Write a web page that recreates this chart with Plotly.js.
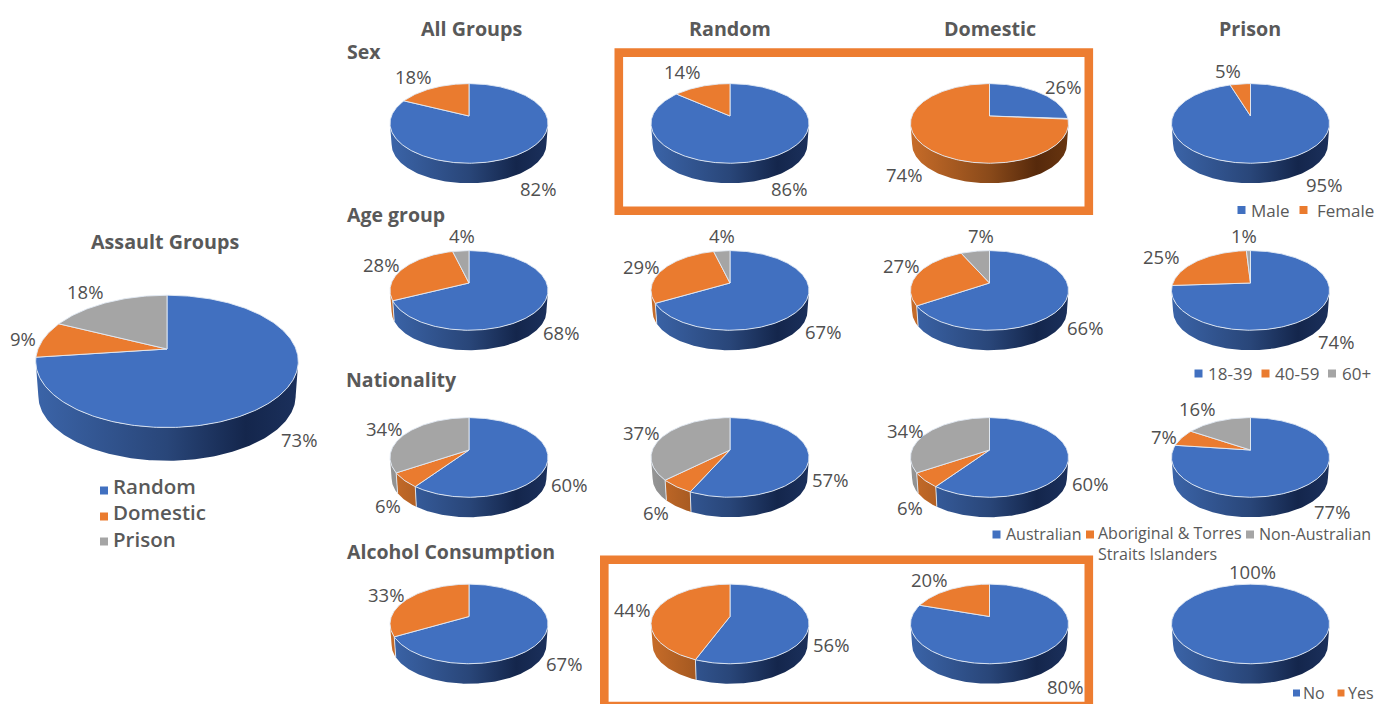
<!DOCTYPE html>
<html>
<head>
<meta charset="utf-8">
<title>Assault groups</title>
<script src="https://cdn.plot.ly/plotly-3.0.1.min.js"></script>
<style>html,body{margin:0;padding:0;background:#fff;overflow:hidden}#chart{width:1375px;height:704px}</style>
</head>
<body>
<div id="chart"></div>
<script>
// Shares (%), listed clockwise from twelve o'clock.
const assaultGroups = [73, 9, 18];
const sexShares = [[82, 18], [86, 14], [26, 74], [95, 5]];
const ageShares = [[68, 28, 4], [67, 29, 4], [66, 27, 7], [74, 25, 1]];
const nationalityShares = [[60, 6, 34], [57, 6, 37], [60, 6, 34], [77, 7, 16]];
const alcoholShares = [[67, 33], [56, 44], [80, 20], [100, 0]];

const columnTitles = ['All Groups', 'Random', 'Domestic', 'Prison'];
const rowTitles = ['Sex', 'Age group', 'Nationality', 'Alcohol Consumption'];
const assaultLegend = ['Random', 'Domestic', 'Prison'];
const sexLegend = ['Male', 'Female'];
const ageLegend = ['18-39', '40-59', '60+'];
const nationalityLegend = ['Australian', 'Aboriginal & Torres<br>Straits Islanders', 'Non-Australian'];
const alcoholLegend = ['No', 'Yes'];

// Page layout in pixel units: the single axis pair spans the whole page.
const columnX = [469, 730, 989.5, 1250.5];
const rowY = [116, 283, 450, 616.5];
const rowTitleY = [51, 214, 379, 551];
const rowTitleX = [347, 347, 345.5, 347];
const smallRadius = 79;
const bigPie = {cx: 167, cy: 349, rx: 131.3};

const bigLabelSpots = [[299, 439], [23, 338], [85, 291]];
const labelSpots = [
  [[[537.5, 188], [413, 76]], [[788.5, 188], [681.5, 71]], [[1063, 86], [904, 174]], [[1323.5, 184], [1227.5, 70]]],
  [[[561, 332], [381, 264], [462, 235]], [[823, 331], [641, 266], [722, 235]], [[1085, 327], [901, 265], [981, 235]], [[1336, 341], [1161, 256], [1244, 235]]],
  [[[568.5, 484], [388, 505], [384, 428]], [[829.5, 479], [656, 512], [641, 432]], [[1089.5, 483], [909.5, 507], [904.5, 430]], [[1332, 511], [1163.5, 436], [1197, 408]]],
  [[[564, 663], [385.5, 594]], [[831, 644], [632, 609]], [[1064.5, 686], [928.5, 579]], [[1252, 571]]]
];

const faceColors = ['#4170c0', '#ea7b2f', '#a5a5a5'];
const wallScales = [
  [[0, '#3b64a8'], [0.5, '#294679'], [0.8, '#14264c'], [1, '#1b305c']],
  [[0, '#c76c29'], [0.5, '#8a4a1a'], [0.8, '#56290b'], [1, '#683510']],
  [[0, '#959595'], [0.5, '#6a6a6a'], [0.8, '#3e3e3e'], [1, '#4c4c4c']]
];
const edgeColor = 'rgba(226,234,244,0.9)';
const titleColor = '#595959';
const valueColor = '#505050';
const fontFamily = '"Open Sans", "Noto Sans", sans-serif';

// Tilted-disc projection: k sets the foreshortening of the far side,
// and the lower rim of the drum is a slightly smaller copy further down.
const k = 0.187;
const flatten = 0.495;
const wallStart = 0.25 + Math.asin(k) / (2 * Math.PI);
const wallEnd = 1 - wallStart;

function rimPoint(pie, fraction, lower) {
  const t = 2 * Math.PI * fraction;
  const u = Math.sin(t), v = Math.cos(t);
  const p = 1 + k * v;
  const R = pie.rx * Math.sqrt(1 - k * k);
  const s = lower ? 0.98 : 1;
  const drop = lower ? pie.rx * 0.265 : 0;
  return [pie.cx + s * R * u / p, pie.cy + drop - s * R * flatten * v / p];
}

function arc(pie, from, to, lower) {
  const n = Math.max(2, Math.ceil((to - from) * 360));
  const pts = [];
  for (let i = 0; i <= n; i++) pts.push(rimPoint(pie, from + (to - from) * i / n, lower));
  return pts;
}

function drawPie(pie, values, traces) {
  const total = values.reduce((a, b) => a + b, 0);
  const walls = [], seams = [], faces = [];
  let acc = 0;
  values.forEach((value, i) => {
    if (value <= 0) return;
    const a = acc / total, b = (acc + value) / total;
    acc += value;
    // Side wall: only the part of the drum that faces the viewer.
    const from = Math.max(a, wallStart), to = Math.min(b, wallEnd);
    if (to > from) {
      const ring = arc(pie, from, to, false).concat(arc(pie, from, to, true).reverse());
      walls.push({
        type: 'scatter', mode: 'lines', hoverinfo: 'skip', showlegend: false,
        x: ring.map(q => q[0]), y: ring.map(q => q[1]),
        fill: 'toself', line: {width: 0},
        fillgradient: {
          type: 'horizontal',
          start: pie.cx - pie.rx, stop: pie.cx + pie.rx,
          colorscale: wallScales[i]
        }
      });
    }
    if (b > wallStart && b < wallEnd) {
      const top = rimPoint(pie, b, false), low = rimPoint(pie, b, true);
      seams.push({
        type: 'scatter', mode: 'lines', hoverinfo: 'skip', showlegend: false,
        x: [top[0], low[0]], y: [top[1], low[1]],
        line: {color: edgeColor, width: 1}
      });
    }
    // Top face: a wedge from the hub, or the full disc for a single 100% share.
    const rim = arc(pie, a, b, false);
    const poly = (b - a >= 1) ? rim : [[pie.cx, pie.cy]].concat(rim, [[pie.cx, pie.cy]]);
    faces.push({
      type: 'scatter', mode: 'lines', hoverinfo: 'skip', showlegend: false,
      x: poly.map(q => q[0]), y: poly.map(q => q[1]),
      fill: 'toself', fillcolor: faceColors[i],
      line: {color: edgeColor, width: 1}
    });
  });
  traces.push(...walls, ...seams, ...faces);
}

// Left-anchored annotations carry about 2px of built-in padding, taken off here.
function text(str, x, y, size, color, anchor, weight) {
  return {
    text: str, x: anchor === 'left' ? x - 2 : x, y: y, xref: 'x', yref: 'y', showarrow: false,
    xanchor: anchor || 'center', yanchor: 'middle', align: 'left',
    font: {family: fontFamily, size: size, color: color, weight: weight || 400}
  };
}

function legendMarks(xs, ys, size) {
  return {
    type: 'scatter', mode: 'markers', hoverinfo: 'skip', showlegend: false,
    x: xs, y: ys,
    marker: {symbol: 'square', size: size, color: faceColors.slice(0, xs.length), line: {width: 0}}
  };
}

const traces = [];
const annotations = [];

// Overall split on the left.
drawPie(bigPie, assaultGroups, traces);
assaultGroups.forEach((v, i) => {
  annotations.push(text(v + '%', bigLabelSpots[i][0], bigLabelSpots[i][1], 18.5, valueColor));
});
annotations.push(text('Assault Groups', 165, 241.5, 19.7, titleColor, 'center', 700));

// Four-by-four grid of breakdowns.
[sexShares, ageShares, nationalityShares, alcoholShares].forEach((row, r) => {
  row.forEach((values, c) => {
    drawPie({cx: columnX[c], cy: rowY[r], rx: smallRadius}, values, traces);
    values.forEach((v, i) => {
      if (v > 0) {
        const spot = labelSpots[r][c][i];
        annotations.push(text(v + '%', spot[0], spot[1], 18.5, valueColor));
      }
    });
  });
});

columnTitles.forEach((t, c) => annotations.push(text(t, [471.5, 730, 990, 1250][c], 28, 19.7, titleColor, 'center', 700)));
rowTitles.forEach((t, r) => annotations.push(text(t, rowTitleX[r], rowTitleY[r], 19.5, titleColor, 'left', 700)));

// Legends.
traces.push(legendMarks([104, 104, 104], [490.5, 516.5, 541.5], 8));
assaultLegend.forEach((t, i) => annotations.push(text(t, 113, [486, 512, 539][i], 20.5, titleColor, 'left', 600)));

traces.push(legendMarks([1241.5, 1303.5], [210, 210], 8));
sexLegend.forEach((t, i) => annotations.push(text(t, [1250.5, 1316.5][i], 210, 17, titleColor, 'left')));

traces.push(legendMarks([1198.5, 1265.5, 1332], [373.5, 373.5, 373.5], 8));
ageLegend.forEach((t, i) => annotations.push(text(t, [1207.5, 1274.5, 1341.5][i], 373, 17, titleColor, 'left')));

traces.push(legendMarks([996.5, 1090, 1250], [534.5, 534.5, 534.5], 8));
nationalityLegend.forEach((t, i) => annotations.push(text(t, [1005.5, 1098, 1259][i], i === 1 ? 543.5 : 534, 16, titleColor, 'left')));

traces.push(legendMarks([1296.5, 1341], [693, 693], 7));
alcoholLegend.forEach((t, i) => annotations.push(text(t, [1302.5, 1347.5][i], 692.5, 16, titleColor, 'left')));

// Highlight frames round the Random and Domestic columns.
const frameLine = {color: '#ed7d31', width: 8.6};
const shapes = [
  {type: 'rect', xref: 'x', yref: 'y', x0: 618.8, x1: 1088.8, y0: 52.6, y1: 210.7, line: frameLine, fillcolor: 'rgba(0,0,0,0)', layer: 'below'},
  {type: 'rect', xref: 'x', yref: 'y', x0: 604.3, x1: 1088.8, y0: 559.7, y1: 706, line: frameLine, fillcolor: 'rgba(0,0,0,0)', layer: 'below'}
];

const hidden = {visible: false, fixedrange: true};
Plotly.newPlot('chart', traces, {
  width: 1375, height: 704,
  margin: {l: 0, r: 0, t: 0, b: 0},
  paper_bgcolor: '#ffffff', plot_bgcolor: '#ffffff',
  showlegend: false,
  xaxis: Object.assign({range: [0, 1375]}, hidden),
  yaxis: Object.assign({range: [704, 0]}, hidden),
  annotations: annotations,
  shapes: shapes
}, {displayModeBar: false, staticPlot: true});
</script>
</body>
</html>
